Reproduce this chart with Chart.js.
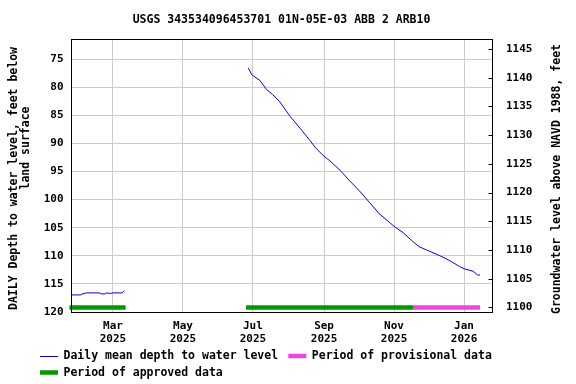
<!DOCTYPE html>
<html>
<head>
<meta charset="utf-8">
<script src="https://cdn.jsdelivr.net/npm/chart.js@4/dist/chart.umd.min.js"></script>
<style>
html,body{margin:0;padding:0;background:#fff;}
canvas{display:block;}
</style>
</head>
<body>
<canvas id="c" width="576" height="384"></canvas>
<script>
// ---------------- data ----------------
const titleText = 'USGS 343534096453701 01N-05E-03 ABB 2 ARB10';
const leftAxisTitle = ['DAILY Depth to water level, feet below', 'land surface'];
const rightAxisTitle = 'Groundwater level above NAVD 1988, feet';

// daily mean depth to water level (feet below land surface); null = gap
const depthDates = [
  '2025-01-23','2025-02-01','2025-02-02','2025-02-06','2025-02-17','2025-02-19',
  '2025-02-22','2025-02-23','2025-02-27','2025-03-01','2025-03-09','2025-03-11',
  '2025-04-15',
  '2025-06-27','2025-06-30','2025-07-02','2025-07-07','2025-07-13','2025-07-18',
  '2025-07-24','2025-08-02','2025-08-11','2025-08-19','2025-08-25','2025-09-01',
  '2025-09-06','2025-09-15','2025-09-23','2025-10-02','2025-10-11','2025-10-19',
  '2025-11-01','2025-11-09','2025-11-17','2025-11-23','2025-12-02','2025-12-11',
  '2025-12-19','2025-12-28','2026-01-01','2026-01-09','2026-01-13','2026-01-15'
];
const depthValues = [
  116.96,116.96,116.8,116.6,116.6,116.78,
  116.78,116.6,116.7,116.6,116.6,116.2,
  null,
  76.6,77.8,78.1,78.8,80.45,81.3,
  82.5,85.1,87.3,89.3,90.9,92.3,
  93.1,94.8,96.6,98.5,100.6,102.5,
  104.75,105.9,107.4,108.4,109.2,110.0,
  110.8,111.9,112.3,112.75,113.45,113.4
];

// data-approval periods
const approvedPeriods = [['2025-01-22','2025-03-12'], ['2025-06-25','2025-11-18']];
const provisionalPeriods = [['2025-11-18','2026-01-15']];
const periodDepth = 119.2;

// tick labels
const xTickDates  = ['2025-03-01','2025-05-01','2025-07-01','2025-09-01','2025-11-01','2026-01-01'];
const xTickMonths = ['Mar','May','Jul','Sep','Nov','Jan'];
const xTickYears  = ['2025','2025','2025','2025','2025','2026'];
const leftTicks  = [75,80,85,90,95,100,105,110,115,120];
const rightTicks = [1100,1105,1110,1115,1120,1125,1130,1135,1140,1145];

// legend entries
const legendItems = [
  {label:'Daily mean depth to water level', color:'#0000ff', thick:1},
  {label:'Period of provisional data', color:'#f046e0', thick:4.5},
  {label:'Period of approved data', color:'#009900', thick:4.5}
];

// ---------------- helpers ----------------
const BASE = Date.UTC(2025,0,1);
function dayNum(s){ const p=s.split('-').map(Number); return (Date.UTC(p[0],p[1]-1,p[2])-BASE)/86400000; }

const FONT = '"DejaVu Sans Mono", "Liberation Mono", monospace';
const GREEN = legendItems[2].color, PINK = legendItems[1].color, BLUE = legendItems[0].color;

const depthData = depthDates.map((d,i)=>({x:dayNum(d), y:depthValues[i]}));
function periodSets(periods, color){
  return periods.map(p=>({
    type:'line',
    data:[{x:dayNum(p[0]),y:periodDepth},{x:dayNum(p[1]),y:periodDepth}],
    borderColor:color, borderWidth:4.5, borderCapStyle:'butt',
    pointRadius:0, yAxisID:'y', clip:2
  }));
}

const overlay = {
  id:'overlay',
  afterDraw(chart){
    const {ctx, chartArea:a} = chart;
    ctx.save();
    // frame
    ctx.strokeStyle='#000'; ctx.lineWidth=1;
    const L=Math.round(a.left)+0.5, T=Math.round(a.top)+0.5, R=Math.round(a.right)+0.5, B=Math.round(a.bottom)+0.5;
    ctx.strokeRect(L,T,R-L,B-T);
    // right axis inward ticks
    const r = chart.scales.yRight;
    ctx.beginPath();
    r.ticks.forEach(t=>{
      const y=Math.round(r.getPixelForValue(t.value))+0.5;
      ctx.moveTo(R-4,y); ctx.lineTo(R,y);
    });
    ctx.stroke();
    // title
    ctx.fillStyle='#000';
    ctx.font='bold 11.5px '+FONT;
    ctx.textAlign='center'; ctx.textBaseline='middle';
    ctx.fillText(titleText,(a.left+a.right)/2,20.5);
    // axis titles
    ctx.save(); ctx.translate(14.5,178.5); ctx.rotate(-Math.PI/2);
    ctx.fillText(leftAxisTitle[0],0,0); ctx.restore();
    ctx.save(); ctx.translate(26.5,148); ctx.rotate(-Math.PI/2);
    ctx.fillText(leftAxisTitle[1],0,0); ctx.restore();
    ctx.save(); ctx.translate(557,179); ctx.rotate(-Math.PI/2);
    ctx.fillText(rightAxisTitle,0,0); ctx.restore();
    // legend
    const pos=[{x:40,y:356},{x:288.3,y:356},{x:40,y:372.5}];
    ctx.textAlign='left';
    legendItems.forEach((it,i)=>{
      const p=pos[i];
      ctx.strokeStyle=it.color; ctx.lineWidth=it.thick; ctx.lineCap='butt';
      ctx.beginPath();
      const yy = it.thick===1 ? Math.round(p.y)+0.5 : p.y;
      ctx.moveTo(p.x,yy); ctx.lineTo(p.x+18,yy); ctx.stroke();
      ctx.fillStyle='#000';
      ctx.fillText(it.label,p.x+23.5,p.y+0.5);
    });
    ctx.restore();
  }
};

new Chart(document.getElementById('c'),{
  type:'line',
  data:{datasets:[
    {data:depthData, borderColor:BLUE, borderWidth:1, pointRadius:0, tension:0, spanGaps:false, yAxisID:'y'},
    ...periodSets(approvedPeriods, GREEN),
    ...periodSets(provisionalPeriods, PINK)
  ]},
  options:{
    responsive:false, animation:false, devicePixelRatio:1,
    layout:{padding:{top:39,left:0,right:0,bottom:0}},
    plugins:{legend:{display:false}, tooltip:{enabled:false}, title:{display:false}},
    scales:{
      x:{
        type:'linear', min:22.4, max:389.4,
        afterBuildTicks(s){ s.ticks = xTickDates.map(d=>({value:dayNum(d)})); },
        afterFit(s){ s.height = 72; },
        grid:{color:'#cccccc', lineWidth:1, drawTicks:false},
        border:{display:false},
        ticks:{autoSkip:false, maxRotation:0, padding:7, color:'#000',
          font:{family:FONT, size:11, weight:'bold', lineHeight:1.23},
          callback:(v,i)=>[xTickMonths[i], xTickYears[i]]}
      },
      y:{
        type:'linear', position:'left', reverse:true, min:71.44, max:120,
        afterBuildTicks(s){ s.ticks = leftTicks.map(v=>({value:v})); },
        afterFit(s){ s.width = 71; },
        grid:{color:'#cccccc', lineWidth:1, drawTicks:false},
        border:{display:false},
        ticks:{padding:7.5, color:'#000', font:{family:FONT, size:11, weight:'bold'}, callback:v=>String(v)}
      },
      yRight:{
        type:'linear', position:'right', min:1099.2, max:1146.74,
        afterBuildTicks(s){ s.ticks = rightTicks.map(v=>({value:v})); },
        afterFit(s){ s.width = 84; },
        grid:{display:false, drawOnChartArea:false, drawTicks:false},
        border:{display:false},
        ticks:{padding:14, color:'#000', font:{family:FONT, size:11, weight:'bold'}, callback:v=>String(v)}
      }
    }
  },
  plugins:[overlay]
});
</script>
</body>
</html>
